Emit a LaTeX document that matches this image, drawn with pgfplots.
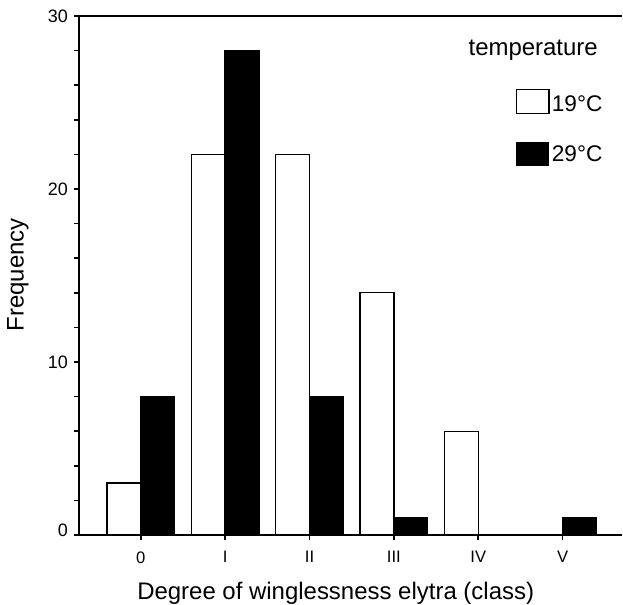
\documentclass[border=0pt]{standalone}
\usepackage{fontspec}
\setmainfont{Liberation Sans}
\usepackage{pgfplots}
\pgfplotsset{compat=1.18}

\begin{document}
\begin{tikzpicture}
\begin{axis}[
  scale only axis, width=408pt, height=390pt,
  xmin=-0.734, xmax=5.704, ymin=0, ymax=30,
  axis lines=left, axis line style={-, line width=1.5pt},
  clip=false,
  xtick={0,...,5}, xticklabels={0,I,II,III,IV,V},
  ytick={0,10,20,30}, yticklabels={\raisebox{7pt}{0},10,20,30},
  minor ytick={2,4,6,8,12,14,16,18,22,24,26,28},
  tick style={black, line width=1.2pt},
  major tick length=3.75pt, minor tick length=3.75pt,
  tick align=outside,
  yticklabel style={font=\fontsize{13.5}{15}\selectfont, xshift=-1pt},
  xticklabel style={font=\fontsize{12.5}{14}\selectfont, yshift=-5pt},
]
% 19 C (white) and 29 C (black)
\addplot[ybar, bar width=0.4, bar shift=-0.2, fill=white, draw=black, line width=1pt]
  coordinates {(0,3) (1,22) (2,22) (3,14) (4,6)};
\addplot[ybar, bar width=0.4, bar shift=0.2, fill=black, draw=black, line width=1pt]
  coordinates {(0,8) (1,28) (2,8) (3,1) (5,1)};

% top frame line
\draw[line width=1.5pt] (rel axis cs:0,1) -- (rel axis cs:1,1);

% legend
\node[anchor=base east, inner sep=0, font=\fontsize{18}{20}\selectfont] at (axis cs:5.42,27.69) {temperature};
\draw[line width=1pt, fill=white] (axis cs:4.450,24.35) rectangle (axis cs:4.840,25.73);
\fill (axis cs:4.450,21.35) rectangle (axis cs:4.840,22.73);
\node[anchor=base west, inner sep=0, font=\fontsize{17}{19}\selectfont] at (axis cs:4.87,24.46) {19°C};
\node[anchor=base west, inner sep=0, font=\fontsize{17}{19}\selectfont] at (axis cs:4.87,21.56) {29°C};

% axis titles
\node[anchor=base, inner sep=0, font=\fontsize{18}{20}\selectfont] at (axis cs:2.31,-3.75) {Degree of winglessness elytra (class)};
\node[rotate=90, anchor=base, inner sep=0, font=\fontsize{18}{20}\selectfont] at (axis cs:-1.39,15.03) {Frequency};

% page extent
\path (axis cs:-1.669,-4.038) rectangle (axis cs:5.704,30.92);
\end{axis}
\end{tikzpicture}
\end{document}
